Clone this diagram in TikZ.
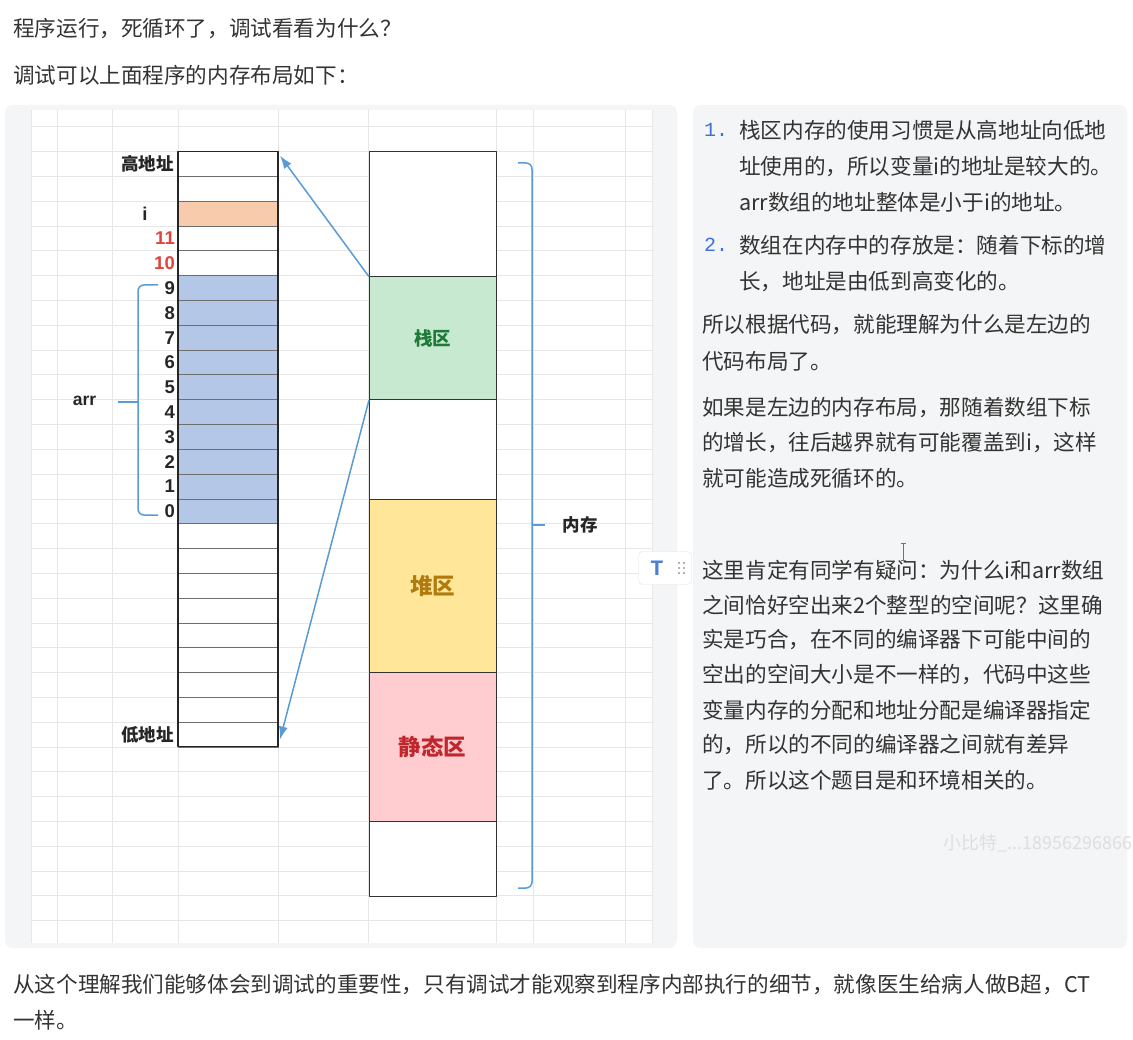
\documentclass[tikz,border=0pt]{standalone}
\usepackage{fontspec}
\setmainfont{Noto Sans CJK SC}
\newfontfamily\latinsans{Liberation Sans}
\newfontfamily\latinmono{Liberation Mono}
\usetikzlibrary{arrows.meta}
\definecolor{txt}{HTML}{333333}
\definecolor{panel}{HTML}{F4F5F6}
\definecolor{gridc}{HTML}{E7E7E7}
\definecolor{cellline}{HTML}{6E6E6E}
\definecolor{arrowc}{HTML}{5B9BD5}
\definecolor{orangec}{HTML}{F8CBAD}
\definecolor{bluec}{HTML}{B4C7E7}
\definecolor{greenc}{HTML}{C6E9CF}
\definecolor{greent}{HTML}{1F7A3A}
\definecolor{yellowc}{HTML}{FFE699}
\definecolor{yellowt}{HTML}{B07A0F}
\definecolor{pinkc}{HTML}{FFCCCF}
\definecolor{pinkt}{HTML}{C0272D}
\definecolor{redn}{HTML}{E0443C}
\definecolor{listblue}{HTML}{3C6FD8}
\definecolor{tblue}{HTML}{4A7FD6}
\begin{document}
\begin{tikzpicture}[x=1pt,y=-1pt,line join=round,
  cell/.style={draw=cellline, line width=0.8pt, minimum width=100pt, minimum height=24.8pt, inner sep=0pt, outer sep=0pt},
  seg/.style={draw=black!80, line width=1pt, minimum width=127pt, inner sep=0pt, outer sep=0pt},
  conn/.style={draw=arrowc, line width=1.5pt, -{Latex[length=13pt,width=9pt]}},
  bracec/.style={draw=arrowc, line width=1.5pt, rounded corners=6pt},
  gridline/.style={draw=gridc, line width=0.8pt},
  body/.style={anchor=west, inner sep=0pt, text=txt, font=\fontsize{21.6}{26}\selectfont},
  numlbl/.style={anchor=east, inner sep=0pt, text=black!85, font=\latinsans\bfseries\fontsize{18.5}{20}\selectfont},
  cjklbl/.style={inner sep=0pt, text=black!85, font=\bfseries\fontsize{17.5}{20}\selectfont},
  listnum/.style={anchor=west, inner sep=0pt, text=listblue, font=\latinmono\fontsize{20}{24}\selectfont}
]
\useasboundingbox (0,0) rectangle (1133,1040);
\fill[white] (0,0) rectangle (1133,1040);

% top text
\node[body] (t1) at (13,29) {程序运行，死循环了，调试看看为什么？};
\node[body] (t2) at (13,75) {调试可以上面程序的内存布局如下：};

% panels
\fill[panel, rounded corners=8pt] (5,105) rectangle (677,948);
\fill[panel, rounded corners=8pt] (693,105) rectangle (1127,948);
\fill[white] (31,110) rectangle (652,943);

% spreadsheet grid
\foreach \xx in {31,57,112,178,278,368,496,533,625,652}
  \draw[gridline] (\xx,110) -- (\xx,943);
\foreach \k in {0,...,32}{
  \pgfmathsetmacro{\yy}{126.9+24.8*\k}
  \draw[gridline] (31,\yy) -- (652,\yy);
}

% left memory column
\foreach \k in {1,2,4,5,16,17,18,19,20,21,22,23,24}{
  \pgfmathsetmacro{\yy}{151.7+24.8*(\k-0.5)}
  \node[cell, fill=white] (c\k) at (228,\yy) {};
}
\foreach \k in {3}{
  \pgfmathsetmacro{\yy}{151.7+24.8*(\k-0.5)}
  \node[cell, fill=orangec] (c\k) at (228,\yy) {};
}
\foreach \k in {6,...,15}{
  \pgfmathsetmacro{\yy}{151.7+24.8*(\k-0.5)}
  \node[cell, fill=bluec] (c\k) at (228,\yy) {};
}
\draw[black!85, line width=1.1pt] (c1.north west) rectangle (c24.south east);

% labels of the left column
\node[cjklbl, anchor=east] (hi) at ([xshift=-4pt]c1.west) {高地址};
\node[numlbl, anchor=center] (li) at (145,0 |- c3.center) {i};
\node[numlbl, text=redn] (l11) at ([xshift=-3pt]c4.west) {11};
\node[numlbl, text=redn] (l10) at ([xshift=-3pt]c5.west) {10};
\foreach \d [count=\n] in {9,8,7,6,5,4,3,2,1,0}{
  \pgfmathtruncatemacro{\k}{\n+5}
  \node[numlbl] (l\k) at ([xshift=-3pt]c\k.west) {\d};
}
\node[cjklbl, anchor=east] (lo) at ([xshift=-4pt]c24.west) {低地址};

% arr brace
\draw[bracec] (158,285) -- (138,285) -- (138,515) -- (158,515);
\draw[bracec] (138,402) -- (118,402);
\node[inner sep=0pt, text=black!85, font=\latinsans\bfseries\fontsize{17.5}{20}\selectfont] (arrlbl) at (84.5,401) {arr};

% right memory block
\node[seg, fill=white, minimum height=125pt] (m1) at (432.5,214.2) {};
\node[seg, fill=greenc, minimum height=123.3pt, text=greent, font=\bfseries\fontsize{18.5}{22}\selectfont] (stack) at (432.5,338.35) {栈区};
\node[seg, fill=white, minimum height=99.3pt] (m3) at (432.5,449.65) {};
\node[seg, fill=yellowc, minimum height=173.4pt, text=yellowt, font=\bfseries\fontsize{22.5}{26}\selectfont] (heap) at (432.5,586) {堆区};
\node[seg, fill=pinkc, minimum height=148.3pt, text=pinkt, font=\bfseries\fontsize{22.5}{26}\selectfont] (static) at (432.5,746.85) {静态区};
\node[seg, fill=white, minimum height=75pt] (m6) at (432.5,858.5) {};

% memory bracket
\draw[bracec] (518,163) -- (532,163) -- (532,888) -- (518,888);
\draw[bracec] (532,525) -- (545,525);
\node[cjklbl] (mem) at (580,525) {内存};

% connectors
\draw[conn] (stack.north west) -- ([shift={(2,4)}]c1.north east);
\draw[conn] (stack.south west) -- ([shift={(2,5)}]c24.east);

% right panel text
\node[listnum] (n1) at (704,130) {1.};
\node[body] (r1) at (739,130) {栈区内存的使用习惯是从高地址向低地};
\node[body] (r2) at (739,166.5) {址使用的，所以变量i的地址是较大的。};
\node[body] (r3) at (739,202) {arr数组的地址整体是小于i的地址。};
\node[listnum] (n2) at (704,245) {2.};
\node[body] (r4) at (739,245) {数组在内存中的存放是：随着下标的增};
\node[body] (r5) at (739,281.5) {长，地址是由低到高变化的。};
\node[body] (r6) at (702,325) {所以根据代码，就能理解为什么是左边的};
\node[body] (r7) at (702,361.5) {代码布局了。};
\node[body] (r8) at (702,408) {如果是左边的内存布局，那随着数组下标};
\node[body] (r9) at (702,443) {的增长，往后越界就有可能覆盖到i，这样};
\node[body] (r10) at (702,478) {就可能造成死循环的。};
\node[body] (s1) at (702,570) {这里肯定有同学有疑问：为什么i和arr数组};
\node[body] (s2) at (702,605) {之间恰好空出来2个整型的空间呢？这里确};
\node[body] (s3) at (702,640) {实是巧合，在不同的编译器下可能中间的};
\node[body] (s4) at (702,675) {空出的空间大小是不一样的，代码中这些};
\node[body] (s5) at (702,710) {变量内存的分配和地址分配是编译器指定};
\node[body] (s6) at (702,745) {的，所以的不同的编译器之间就有差异};
\node[body] (s7) at (702,780) {了。所以这个题目是和环境相关的。};

% watermark
\node[anchor=west, inner sep=0pt, text=black!13, font=\fontsize{18}{20}\selectfont] (wm) at (943,843) {小比特\_...18956296866};

% editor widget and cursor
\node[draw=black!12, fill=white, rounded corners=4pt, minimum width=53pt, minimum height=33pt, inner sep=0pt] (tool) at (665,568) {};
\node[inner sep=0pt, text=tblue, font=\latinmono\bfseries\fontsize{22}{24}\selectfont] (tglyph) at (657,568) {T};
\foreach \dx in {679,684}
  \foreach \dy in {563,568,573}
    \fill[black!40] (\dx,\dy) circle (1.2pt);
\draw[black!55, line width=0.8pt] (903,543) -- (903,560) (900.5,543) -- (905.5,543) (900.5,560) -- (905.5,560);

% bottom text
\node[body] (b1) at (13,985) {从这个理解我们能够体会到调试的重要性，只有调试才能观察到程序内部执行的细节，就像医生给病人做B超，CT};
\node[body] (b2) at (13,1020) {一样。};
\end{tikzpicture}
\end{document}
